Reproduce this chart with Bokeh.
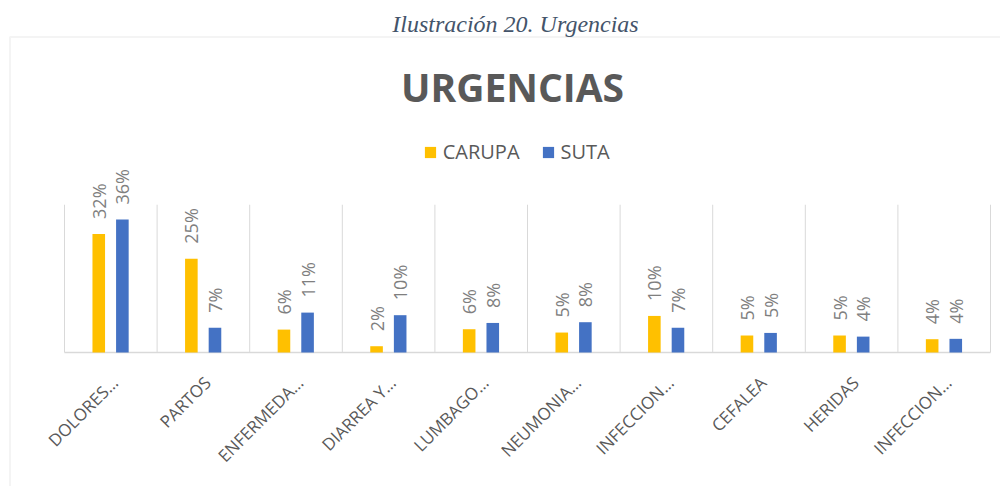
import numpy as np
from bokeh.plotting import figure
from bokeh.models import ColumnDataSource, Range1d, Label, Legend, LegendItem, BoxAnnotation
from bokeh.core.properties import value
from bokeh.embed import file_html
from bokeh.resources import INLINE

# ---- data ----
categories = ["DOLORES…", "PARTOS", "ENFERMEDA…", "DIARREA Y…", "LUMBAGO…",
              "NEUMONIA…", "INFECCION…", "CEFALEA", "HERIDAS", "INFECCION…"]
carupa = [32.1, 25.4, 6.2, 1.7, 6.3, 5.4, 9.9, 4.6, 4.6, 3.6]
suta = [36.0, 6.7, 10.8, 10.1, 8.0, 8.2, 6.7, 5.3, 4.3, 3.7]
series_names = ["CARUPA", "SUTA"]
colors = ["#FFC000", "#4472C4"]
axis_max = 40

title_text = "URGENCIAS"
caption_text = "Ilustración 20. Urgencias"

# ---- layout ----
W, H = 1000, 486
cat_px = 92.6          # pixels per category
unit_px = 3.694        # pixels per percent
base_px = 352          # baseline distance from canvas top
left_px, right_px = 64, W - 990

n = len(categories)
pos = np.arange(n) + 0.5

src = ColumnDataSource(dict(
    pos=pos,
    xc=pos - 0.13,
    xs=pos + 0.125,
    carupa=carupa,
    suta=suta,
    cat=categories,
    lc=[f"{round(v)}%" for v in carupa],
    ls=[f"{round(v)}%" for v in suta],
))

p = figure(width=W, height=H,
           x_range=Range1d(-left_px / cat_px, n + right_px / cat_px),
           y_range=Range1d(-(H - base_px) / unit_px, base_px / unit_px),
           x_axis_location=None, y_axis_location=None,
           tools="", toolbar_location=None, output_backend="svg",
           min_border=0, outline_line_color=None)
p.grid.visible = False
p.background_fill_color = "white"
p.border_fill_color = "white"

# chart border
p.add_layout(BoxAnnotation(left=9.5, right=5000, top=H - 36.5, bottom=-5000,
                           left_units="screen", right_units="screen",
                           top_units="screen", bottom_units="screen",
                           fill_color=None, fill_alpha=0,
                           line_color="#d9d9d9", line_width=2))

# category separators and baseline
bounds = np.arange(n + 1)
p.segment(x0=bounds, y0=np.zeros(n + 1), x1=bounds, y1=np.full(n + 1, axis_max),
          line_color="#d9d9d9", line_width=1)
p.segment(x0=[0], y0=[0], x1=[n], y1=[0], line_color="#d9d9d9", line_width=1.5)

# bars
rc = p.vbar(x="xc", top="carupa", bottom=0, width=0.136, source=src,
            fill_color=colors[0], line_color=None)
rs = p.vbar(x="xs", top="suta", bottom=0, width=0.136, source=src,
            fill_color=colors[1], line_color=None)

# value labels
for xcol, ycol, tcol in (("xc", "carupa", "lc"), ("xs", "suta", "ls")):
    p.text(x=xcol, y=ycol, text=tcol, source=src, angle=np.pi / 2,
           text_align="left", text_baseline="middle", y_offset=-15,
           text_font=value("Open Sans"), text_font_size="18px",
           text_color="#7f7f7f")

# category labels
p.text(x="pos", y=0, text="cat", source=src, angle=np.pi / 4,
       text_align="right", text_baseline="middle", x_offset=4, y_offset=27,
       text_font=value("Open Sans"), text_font_size="17px",
       text_color="#595959")

# legend
legend = Legend(items=[LegendItem(label=series_names[0], renderers=[rc]),
                       LegendItem(label=series_names[1], renderers=[rs])],
                orientation="horizontal", location=(422.7, H - 165),
                glyph_width=14, glyph_height=14, label_height=14,
                label_standoff=6, spacing=21, padding=0, margin=0,
                border_line_color=None, background_fill_alpha=0,
                label_text_font="Open Sans", label_text_font_size="20px",
                label_text_color="#595959")
p.add_layout(legend)

# title and caption
p.add_layout(Label(x=512, y=H - 85.5, x_units="screen", y_units="screen",
                   text=title_text, text_align="center", text_baseline="middle",
                   text_font="Open Sans", text_font_size="39px",
                   text_font_style="bold", text_color="#595959"))
p.add_layout(Label(x=515, y=H - 23, x_units="screen", y_units="screen",
                   text=caption_text, text_align="center", text_baseline="middle",
                   text_font="Liberation Serif", text_font_size="24px",
                   text_font_style="italic", text_color="#44546A"))

open("out.html", "w").write(file_html(p, INLINE))
